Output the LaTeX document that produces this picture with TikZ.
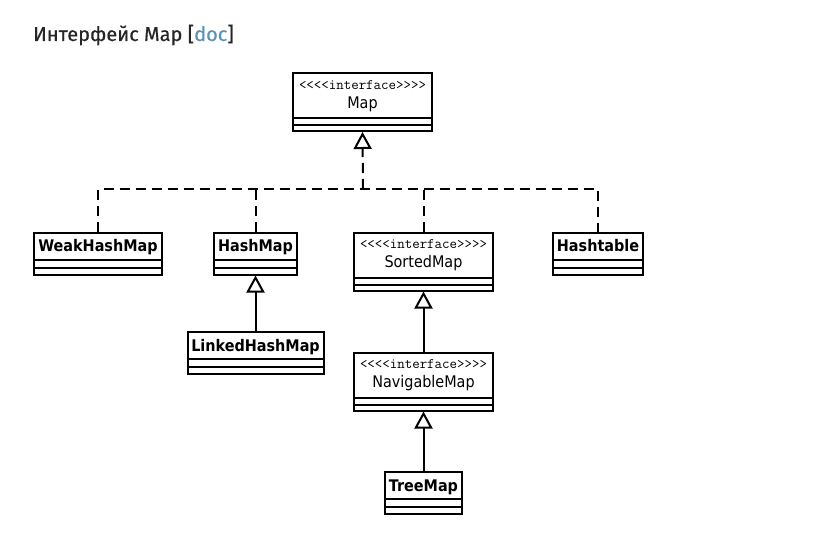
\documentclass[tikz,border=0pt]{standalone}
\usepackage{fontspec}
\setmainfont{Fira Sans}
\newfontfamily\titlefont[FakeBold=0.5]{Fira Sans}
\newfontfamily\umlfont{DejaVu Sans Condensed}
\usetikzlibrary{arrows.meta}
\definecolor{titlegray}{HTML}{262626}
\definecolor{doclink}{HTML}{5A93B6}
\tikzset{compartments/.style 2 args={path picture={
  \draw[line width=2pt] ([yshift=#1]path picture bounding box.south west) -- ([yshift=#1]path picture bounding box.south east);
  \draw[line width=2pt] ([yshift=#2]path picture bounding box.south west) -- ([yshift=#2]path picture bounding box.south east);}}}
\tikzstyle{classbox}=[draw, line width=2pt, inner xsep=0pt, inner ysep=0pt, font=\umlfont\bfseries\fontsize{16}{18}\selectfont, text height=19pt, text depth=23pt, compartments={7pt}{15pt}]
\tikzstyle{ifacebox}=[classbox, font=\umlfont\fontsize{16}{18}\selectfont, text height=35pt, text depth=23pt, compartments={6pt}{13pt}]
\tikzstyle{stereo}=[font=\ttfamily\fontsize{14.5}{16}\selectfont, anchor=base, yshift=-17pt, inner sep=0pt]
\tikzstyle{realize}=[line width=2pt, dash pattern=on 10pt off 6pt]
\tikzstyle{extends}=[line width=2pt, -{Triangle[open, length=17pt, width=18pt]}]

\begin{document}
\begin{tikzpicture}[x=1pt, y=-1pt]
\useasboundingbox (0,0) rectangle (823,538);
\node[anchor=base west, inner sep=0pt, text=titlegray, font=\titlefont\fontsize{20}{24}\selectfont] (title) at (33,41) {Интерфейс Map [\textcolor{doclink}{doc}]};
% interfaces
\node[ifacebox, minimum width=139pt] at (362.5,102) (map) {Map};
\node[ifacebox, minimum width=139pt] at (423.5,261.5) (sorted) {SortedMap};
\node[ifacebox, minimum width=139pt] at (423.5,381.5) (navigable) {NavigableMap};
\node[stereo] at (map.north) (mapst) {<<<<interface>>>>};
\node[stereo] at (sorted.north) (sortedst) {<<<<interface>>>>};
\node[stereo] at (navigable.north) (navigablest) {<<<<interface>>>>};
% classes
\node[classbox, minimum width=128pt] at (98,253.5) (weak) {WeakHashMap};
\node[classbox, minimum width=83pt] at (255.5,253.5) (hashmap) {HashMap};
\node[classbox, minimum width=90pt] at (598,253.5) (table) {Hashtable};
\node[classbox, minimum width=136pt] at (255.5,353) (linked) {LinkedHashMap};
\node[classbox, minimum width=77pt] at (423.5,493) (tree) {TreeMap};
\coordinate (bus) at (363,189);
\draw[realize] (weak.north) |- (bus) -| (table.north);
\draw[realize] (hashmap.north) -- (hashmap.north |- bus);
\draw[realize] (sorted.north) -- (sorted.north |- bus);
\draw[realize, -{Triangle[open, length=17pt, width=18pt]}] (bus) -- (map.south);
\draw[extends] (linked) -- (hashmap);
\draw[extends] (navigable) -- (sorted);
\draw[extends] (tree) -- (navigable);
\end{tikzpicture}
\end{document}
